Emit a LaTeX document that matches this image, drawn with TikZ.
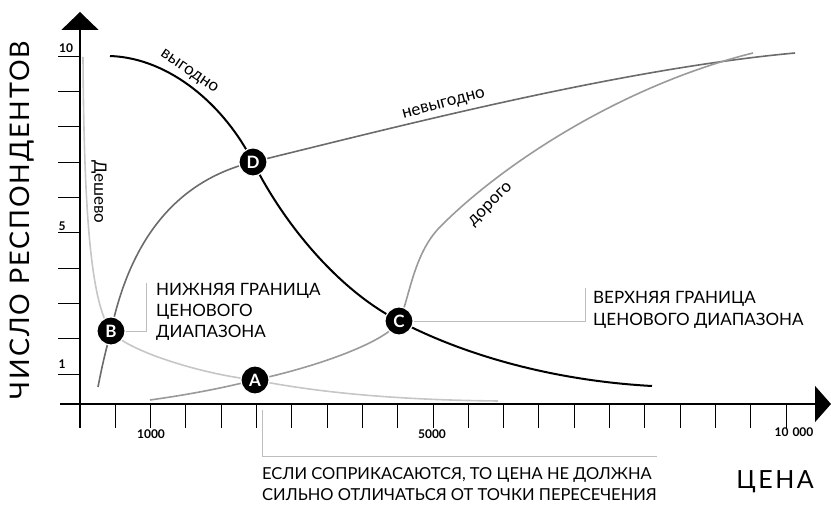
\documentclass[tikz,border=0pt]{standalone}
\usepackage{fontspec}
\setmainfont{Lato}
\usetikzlibrary{arrows.meta}
\definecolor{dark}{HTML}{6B6B6B}
\definecolor{mid}{HTML}{9A9A9A}
\definecolor{light}{HTML}{C6C6C6}
\definecolor{lead}{HTML}{BDBDBD}

\begin{document}
\begin{tikzpicture}[x=1pt,y=1pt,
  axis/.style={line width=1.5pt},
  tick/.style={line width=1pt},
  curve/.style={line width=1.6pt},
  leader/.style={draw=lead,line width=0.9pt},
  pt/.style={circle,fill=black,draw=white,line width=1.2pt,minimum size=28pt,inner sep=0pt,
    text=white,font=\fontsize{17}{17}\selectfont\bfseries},
  lbl/.style={align=left,anchor=north west,inner sep=0pt,font=\fontsize{17}{21}\selectfont},
  cl/.style={inner sep=0pt,font=\fontsize{17}{17}\selectfont},
  num/.style={inner sep=0pt,font=\fontsize{12}{12}\selectfont\bfseries}]
\useasboundingbox (0,0) rectangle (831,506);

% axes
\draw[axis,-{Triangle[width=37pt,length=18pt]}] (80,78) -- (80,494);
\draw[axis,-{Triangle[width=36pt,length=16pt]}] (60,102) -- (831,102);
\foreach \k in {0,...,9}
  \draw[tick] (58,131.7+35.33*\k) -- (80,131.7+35.33*\k);
\foreach \i in {1,...,20}
  \draw[tick] (80+35.3*\i,102) -- (80+35.3*\i,78);

\node[rotate=90,font=\fontsize{27}{27}\selectfont\addfontfeatures{LetterSpace=7}] (ylab) at (22,286) {ЧИСЛО РЕСПОНДЕНТОВ};
\node[font=\fontsize{25}{25}\selectfont\addfontfeatures{LetterSpace=10}] (xlab) at (775,24) {ЦЕНА};

\node[num] (t10) at (66,458) {10};
\node[num] (t5) at (62,280) {5};
\node[num] (t1) at (62,142) {1};
\node[num] (x1) at (151,72) {1000};
\node[num] (x5) at (432,72) {5000};
\node[num] (x10) at (794,74) {10\hspace{4pt}000};

% crossing points
\coordinate (pA) at (255,126);
\coordinate (pB) at (111,175);
\coordinate (pC) at (399,185);
\coordinate (pD) at (253,344);

% curves
\draw[curve,light] (83,449) .. controls (84,300) and (90,204) .. (pB)
  .. controls (125,156) and (200,132) .. (pA)
  .. controls (320,113) and (400,106) .. (498,105);
\draw[curve,dark] (98,119) .. controls (103,145) and (107,160) .. (pB)
  .. controls (130,265) and (175,325) .. (pD)
  .. controls (400,380) and (620,437) .. (795,453);
\draw[curve,mid] (150,106) .. controls (200,113) and (230,120) .. (pA)
  .. controls (320,140) and (388,165) .. (pC)
  .. controls (409,205) and (413,252) .. (440,279)
  .. controls (500,340) and (620,420) .. (753,453);
\draw[curve,line width=2pt] (110,450) .. controls (170,448) and (225,400) .. (pD)
  .. controls (285,280) and (340,215) .. (pC)
  .. controls (470,148) and (560,125) .. (652,120);

\node[cl,rotate=-34] (good) at (189,434) {выгодно};
\node[cl,rotate=15] (bad) at (444,401) {невыгодно};
\node[cl,rotate=45] (dear) at (491,301) {дорого};
\node[cl,rotate=-90] (cheap) at (99,314) {Дешево};

\node[pt] (A) at (pA) {A};
\node[pt] (B) at (pB) {B};
\node[pt] (C) at (pC) {C};
\node[pt] (D) at (pD) {D};

% labels and leaders
\node[lbl] (lowB) at (156,223) {НИЖНЯЯ ГРАНИЦА\\ЦЕНОВОГО\\ДИАПАЗОНА};
\node[lbl,font=\fontsize{17}{22}\selectfont] (upC) at (593,215) {ВЕРХНЯЯ ГРАНИЦА\\ЦЕНОВОГО ДИАПАЗОНА};
\node[lbl,font=\fontsize{16.5}{21}\selectfont] (noteA) at (262,39) {ЕСЛИ СОПРИКАСАЮТСЯ, ТО ЦЕНА НЕ ДОЛЖНА\\СИЛЬНО ОТЛИЧАТЬСЯ ОТ ТОЧКИ ПЕРЕСЕЧЕНИЯ};

\coordinate (bk) at (146,223);
\coordinate (ck) at (585,218);
\coordinate (a1) at (262,96);
\coordinate (a2) at (657,50);
\draw[leader] (B) -| (bk);
\draw[leader] (C) -| (ck);
\draw[leader] (a1) |- (a2);
\end{tikzpicture}
\end{document}
